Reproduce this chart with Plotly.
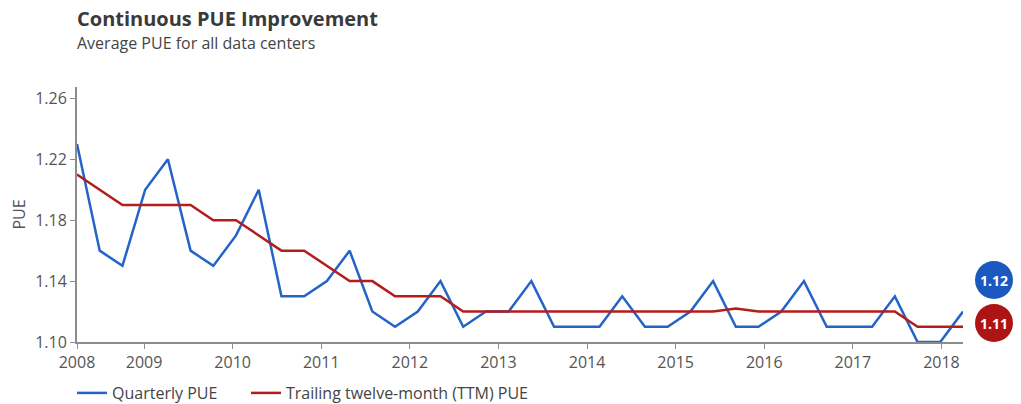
import numpy as np
import plotly.graph_objects as go

# ---- data ----
quarters = [f"{y} Q{q}" for y in range(2008, 2019) for q in range(1, 5)][1:41]
quarterly_pue = [1.23, 1.16, 1.15, 1.20, 1.22, 1.16, 1.15, 1.17, 1.20, 1.13,
                 1.13, 1.14, 1.16, 1.12, 1.11, 1.12, 1.14, 1.11, 1.12, 1.12,
                 1.14, 1.11, 1.11, 1.11, 1.13, 1.11, 1.11, 1.12, 1.14, 1.11,
                 1.11, 1.12, 1.14, 1.11, 1.11, 1.11, 1.13, 1.10, 1.10, 1.12]
ttm_pue = [1.21, 1.20, 1.19, 1.19, 1.19, 1.19, 1.18, 1.18, 1.17, 1.16,
           1.16, 1.15, 1.14, 1.14, 1.13, 1.13, 1.13, 1.12, 1.12, 1.12,
           1.12, 1.12, 1.12, 1.12, 1.12, 1.12, 1.12, 1.12, 1.12, 1.122,
           1.12, 1.12, 1.12, 1.12, 1.12, 1.12, 1.12, 1.11, 1.11, 1.11]
year_ticks = list(range(2009, 2019))
tick_labels = ["2008"] + [str(y) for y in year_ticks]
badge_labels = ["1.12", "1.11"]

# ---- positions ----
start_year = 2008.243
end_year = 2018.243
x = np.linspace(start_year, end_year, len(quarters))
tickvals = [start_year] + year_ticks

BLUE = "#2463c8"
RED = "#b51d1d"
BADGE_BLUE = "#1b59c1"
BADGE_RED = "#ad1414"
FONT = "Open Sans"

# page body has an 8px margin; figure is taller than the window so the legend
# is cut at the bottom like in the reference (and doesn't push the margins)
W, H = 1013, 440
L, T = 77 - 8, 87 - 8
PR, PB = 963 - 8, 342 - 8
PW, PH = PR - L, PB - T

fig = go.Figure()
fig.add_trace(go.Scatter(x=x, y=quarterly_pue, mode="lines", name="Quarterly PUE",
                         line=dict(color=BLUE, width=2.5), text=quarters, legend="legend"))
fig.add_trace(go.Scatter(x=x, y=ttm_pue, mode="lines", name="Trailing twelve-month (TTM) PUE",
                         line=dict(color=RED, width=2.5), text=quarters, legend="legend2"))

legend_common = dict(orientation="h", y=-(376 - 342) / PH, xanchor="left", yanchor="top",
                     font=dict(size=16, color="#444444"), itemwidth=30, bgcolor="rgba(0,0,0,0)")

fig.update_layout(
    width=W, height=H,
    margin=dict(l=L, r=W - PR, t=T, b=H - PB, pad=0),
    paper_bgcolor="white", plot_bgcolor="white",
    font=dict(family=FONT, color="#555555", size=16),
    showlegend=True,
    legend=dict(x=(72 - 77) / PW, **legend_common),
    legend2=dict(x=(246 - 77) / PW, **legend_common),
    xaxis=dict(range=[start_year, end_year], tickvals=tickvals, ticktext=tick_labels,
               showgrid=False, zeroline=False, showline=True, linecolor="#8c8c8c", linewidth=2,
               ticks="outside", ticklen=5, tickcolor="#8c8c8c", tickwidth=1, automargin=False,
               tickfont=dict(size=16, color="#555555")),
    yaxis=dict(range=[1.10, 1.2675], tickvals=[1.10, 1.14, 1.18, 1.22, 1.26],
               ticktext=["1.10", "1.14", "1.18", "1.22", "1.26"],
               showgrid=False, zeroline=False, showline=True, linecolor="#8c8c8c", linewidth=2,
               ticks="outside", ticklen=5, tickcolor="#8c8c8c", tickwidth=1, automargin=False,
               tickfont=dict(size=16, color="#555555"),
               title=dict(text="PUE", font=dict(size=16, color="#555555"), standoff=10)),
)

fig.add_annotation(text="<b>Continuous PUE Improvement</b>", xref="paper", yref="paper",
                   x=0, y=1, xshift=-2, yshift=87 - 18, xanchor="left", yanchor="middle",
                   showarrow=False, font=dict(size=20, color="#3a3a3a", family=FONT))
fig.add_annotation(text="Average PUE for all data centers", xref="paper", yref="paper",
                   x=0, y=1, xshift=-2, yshift=87 - 43, xanchor="left", yanchor="middle",
                   showarrow=False, font=dict(size=16, color="#444444", family=FONT))

# end-value badges
for label, color, ypix in [(badge_labels[0], BADGE_BLUE, 280), (badge_labels[1], BADGE_RED, 323)]:
    yp = (PB - (ypix - 8)) / PH
    xp = (994 - 8 - L) / PW
    fig.add_shape(type="circle", xref="paper", yref="paper", xsizemode="pixel", ysizemode="pixel",
                  xanchor=xp, yanchor=yp, x0=-19, x1=19, y0=-19, y1=19,
                  fillcolor=color, line=dict(width=0))
    fig.add_annotation(text=f"<b>{label}</b>", xref="paper", yref="paper",
                       x=xp, y=yp, showarrow=False, xanchor="center", yanchor="middle",
                       font=dict(size=14, color="white", family=FONT))

fig.write_html("out.html")
